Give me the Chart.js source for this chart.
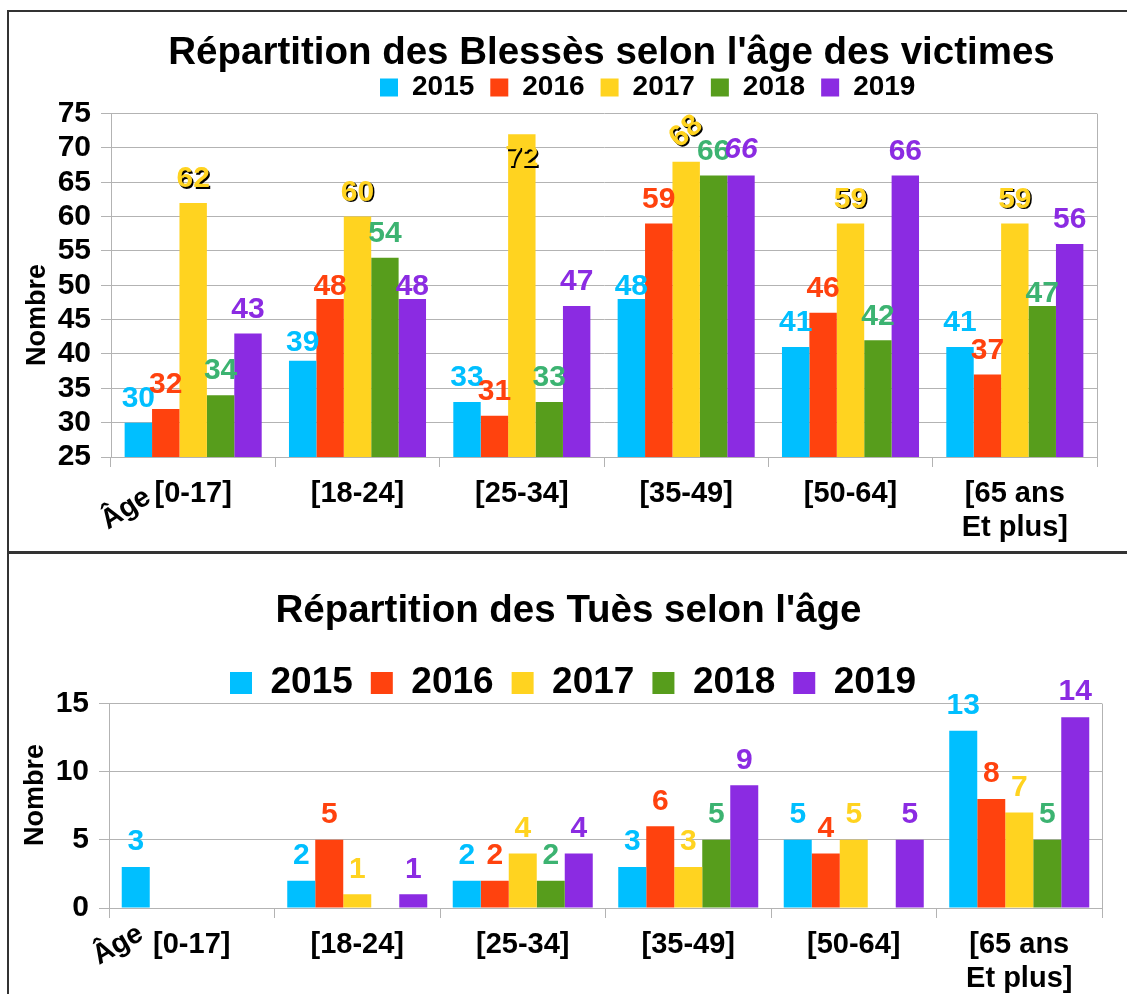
<!DOCTYPE html>
<html>
<head>
<meta charset="utf-8">
<script src="https://cdn.jsdelivr.net/npm/chart.js@4.4.0/dist/chart.umd.min.js"></script>
<style>
  body { margin: 0; background: #fff; }
  .frame { position: absolute; border-color: #333; border-style: solid; }
  #f1 { left: 7px; top: 10px; width: 1200px; height: 539px; border-width: 2px 0 2px 2px; }
  #f2 { left: 7px; top: 553px; width: 1200px; height: 500px; border-width: 1px 0 0 2px; }
  canvas { position: absolute; }
  #c1 { left: 10px; top: 12px; }
  #c2 { left: 10px; top: 555px; }
</style>
</head>
<body>
<div class="frame" id="f1"></div>
<div class="frame" id="f2"></div>
<canvas id="c1" width="1117" height="539"></canvas>
<canvas id="c2" width="1117" height="439"></canvas>
<script>
// données
const ageGroups = ['[0-17]', '[18-24]', '[25-34]', '[35-49]', '[50-64]', ['[65 ans', 'Et plus]']];
const years = ['2015', '2016', '2017', '2018', '2019'];

const blesses2015 = [30, 39, 33, 48, 41, 41];
const blesses2016 = [32, 48, 31, 59, 46, 37];
const blesses2017 = [62, 60, 72, 68, 59, 59];
const blesses2018 = [34, 54, 33, 66, 42, 47];
const blesses2019 = [43, 48, 47, 66, 66, 56];

const tues2015 = [3, 2, 2, 3, 5, 13];
const tues2016 = [null, 5, 2, 6, 4, 8];
const tues2017 = [null, 1, 4, 3, 5, 7];
const tues2018 = [null, null, 2, 5, null, 5];
const tues2019 = [null, 1, 4, 9, 5, 14];

const blessesTicks = [25, 75, 5];
const tuesTicks = [0, 15, 5];

const barColors = ['#00bfff', '#ff420e', '#ffd320', '#579d1c', '#8b2be2'];
const labelColors = ['#00bfff', '#ff420e', '#ffd320', '#3cb371', '#8b2be2'];
const FONT = '"Liberation Sans", Arial, sans-serif';
const GRID = '#b3b3b3';

// position du titre / legende, etiquettes des barres, cadre, "Nombre" et "Âge"
const tweaks = {
  id: 'tweaks',
  afterLayout(chart, args, o) {
    const t = chart.titleBlock;
    if (t) {
      const lh = t.options.font.size * 1.2;
      const dx = o.titleX - (t.left + t.right) / 2;
      const dy = o.titleY - (t.top + lh / 2);
      t.left += dx; t.right += dx; t.top += dy; t.bottom += dy;
    }
    const lg = chart.legend;
    if (lg) {
      const pad = lg.options.labels.padding;
      const fs = lg.options.labels.font.size;
      const ih = Math.max(fs, lg.options.labels.boxHeight || fs);
      const start = ((lg.left + pad) + (lg.right - lg.lineWidths[0])) / 2;
      const dx = o.legendX - start;
      const dy = o.legendY - (lg.top + pad + ih / 2);
      lg.left += dx; lg.right += dx; lg.top += dy; lg.bottom += dy;
    }
  },
  afterDatasetsDraw(chart, args, o) {
    const ctx = chart.ctx;
    chart.data.datasets.forEach((ds, di) => {
      const meta = chart.getDatasetMeta(di);
      meta.data.forEach((bar, i) => {
        const v = ds.data[i];
        if (v == null) return;
        const sp = (o.special || []).find(s => s.ds === di && s.i === i) || {};
        ctx.save();
        ctx.font = (sp.italic ? 'italic ' : '') + 'bold ' + o.size + 'px ' + FONT;
        ctx.fillStyle = labelColors[di];
        ctx.textAlign = 'center';
        ctx.textBaseline = 'middle';
        if (o.shadow && di === 2) {
          ctx.shadowColor = '#000';
          ctx.shadowOffsetX = 1.5;
          ctx.shadowOffsetY = 1.5;
        }
        ctx.translate(bar.x + (sp.dx || 0), bar.y - o.offset + (sp.dy || 0));
        if (sp.rot) ctx.rotate(sp.rot * Math.PI / 180);
        ctx.fillText(String(v), 0, 0);
        ctx.restore();
      });
    });
  },
  afterDraw(chart, args, o) {
    const ctx = chart.ctx, a = chart.chartArea;
    ctx.save();
    ctx.strokeStyle = GRID;
    ctx.lineWidth = 1;
    ctx.beginPath();
    ctx.moveTo(Math.round(a.right) + 0.5, a.top);
    ctx.lineTo(Math.round(a.right) + 0.5, a.bottom);
    ctx.stroke();
    ctx.fillStyle = '#000';
    ctx.font = 'bold 27px ' + FONT;
    ctx.textAlign = 'center';
    ctx.textBaseline = 'middle';
    ctx.save();
    ctx.translate(o.yTitleX, o.yTitleY);
    ctx.rotate(-Math.PI / 2);
    ctx.fillText('Nombre', 0, 0);
    ctx.restore();
    ctx.translate(o.ageX, o.ageY);
    ctx.rotate(o.ageRot * Math.PI / 180);
    ctx.font = 'bold 28px ' + FONT;
    ctx.textAlign = 'left';
    ctx.textBaseline = 'alphabetic';
    ctx.fillText('Âge', 0, 0);
    ctx.restore();
  }
};

function makeDatasets(series, catPct) {
  return series.map((d, k) => ({
    label: years[k],
    data: d,
    backgroundColor: barColors[k],
    borderWidth: 0,
    categoryPercentage: catPct,
    barPercentage: 1
  }));
}

function makeScales(ticks, yWidth, xHeight) {
  return {
    x: {
      afterFit: s => { s.height = xHeight; },
      grid: { offset: true, drawOnChartArea: false, color: GRID, tickLength: 10 },
      border: { color: GRID },
      ticks: {
        color: '#000', padding: 10, maxRotation: 0, autoSkip: false,
        font: { family: FONT, size: 29, weight: 'bold', lineHeight: 1.17 }
      }
    },
    y: {
      min: ticks[0], max: ticks[1],
      afterFit: s => { s.width = yWidth; },
      grid: { color: GRID, tickLength: 10 },
      border: { color: GRID },
      ticks: {
        stepSize: ticks[2], color: '#000', padding: 10, autoSkip: false,
        font: { family: FONT, size: 30, weight: 'bold' }
      }
    }
  };
}

new Chart(document.getElementById('c1'), {
  type: 'bar',
  data: {
    labels: ageGroups,
    datasets: makeDatasets([blesses2015, blesses2016, blesses2017, blesses2018, blesses2019], 0.834)
  },
  options: {
    responsive: false,
    animation: false,
    layout: { padding: { left: 10, right: 30, top: 1.4, bottom: 0 } },
    scales: makeScales(blessesTicks, 91, 94),
    plugins: {
      title: {
        display: true,
        text: "Répartition des Blessès selon l'âge des victimes",
        color: '#000',
        padding: 0,
        font: { family: FONT, size: 38.5, weight: 'bold' }
      },
      legend: {
        labels: {
          color: '#000', boxWidth: 18, boxHeight: 18, padding: 16,
          font: { family: FONT, size: 28, weight: 'bold' }
        }
      },
      tooltip: { enabled: false },
      tweaks: {
        titleX: 601.5, titleY: 41, legendX: 370, legendY: 75.5,
        size: 30, offset: 24, shadow: true,
        special: [
          { ds: 0, i: 1, dy: 6 },
          { ds: 1, i: 1, dy: 12 },
          { ds: 4, i: 1, dy: 12 },
          { ds: 0, i: 3, dy: 12 },
          { ds: 3, i: 5, dy: 12 },
          { ds: 2, i: 2, dy: 48 },
          { ds: 2, i: 3, dy: -6, rot: -40 },
          { ds: 4, i: 3, dy: -2, italic: true }
        ],
        yTitleX: 28, yTitleY: 303,
        ageX: 98, ageY: 518, ageRot: -33
      }
    }
  },
  plugins: [tweaks]
});

new Chart(document.getElementById('c2'), {
  type: 'bar',
  data: {
    labels: ageGroups,
    datasets: makeDatasets([tues2015, tues2016, tues2017, tues2018, tues2019], 0.846)
  },
  options: {
    responsive: false,
    animation: false,
    layout: { padding: { left: 10, right: 25, top: 37.4, bottom: 0 } },
    scales: makeScales(tuesTicks, 89, 86),
    plugins: {
      title: {
        display: true,
        text: "Répartition des Tuès selon l'âge",
        color: '#000',
        padding: 0,
        font: { family: FONT, size: 38.5, weight: 'bold' }
      },
      legend: {
        labels: {
          color: '#000', boxWidth: 22, boxHeight: 22, padding: 18,
          font: { family: FONT, size: 37, weight: 'bold' }
        }
      },
      tooltip: { enabled: false },
      tweaks: {
        titleX: 558.5, titleY: 56, legendX: 220, legendY: 128,
        size: 30, offset: 25, shadow: false,
        yTitleX: 26, yTitleY: 240,
        ageX: 89, ageY: 410, ageRot: -30
      }
    }
  },
  plugins: [tweaks]
});
</script>
</body>
</html>
